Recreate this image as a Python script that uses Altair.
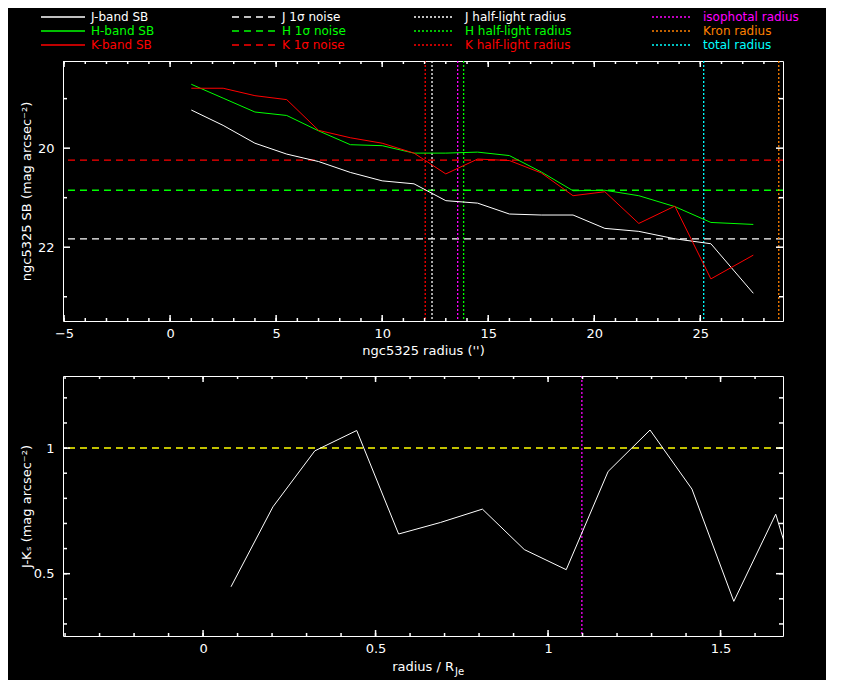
import altair as alt
import pandas as pd

# ---------------- data ----------------
radius = [1.0, 2.5, 4.0, 5.5, 7.0, 8.5, 10.0, 11.5, 13.0, 14.5, 16.0, 17.5,
          19.0, 20.5, 22.1, 23.8, 25.5, 27.5]
sb_J = [19.23, 19.54, 19.90, 20.12, 20.27, 20.49, 20.66, 20.72, 21.06, 21.11,
        21.33, 21.35, 21.35, 21.62, 21.68, 21.83, 21.93, 22.93]
sb_H = [18.71, 18.99, 19.27, 19.34, 19.65, 19.93, 19.95, 20.10, 20.10, 20.08,
        20.15, 20.48, 20.86, 20.85, 20.96, 21.18, 21.50, 21.54]
sb_K = [18.79, 18.79, 18.94, 19.02, 19.64, 19.79, 19.90, 20.10, 20.52, 20.22,
        20.25, 20.50, 20.96, 20.88, 21.52, 21.17, 22.64, 22.16]
bands = ["J", "H", "K"]
band_colours = ["#ffffff", "#00ff00", "#ff0000"]
noise_levels = [21.83, 20.85, 20.24]

radii_names = ["J half-light radius", "H half-light radius", "K half-light radius",
               "isophotal radius", "Kron radius", "total radius"]
radii_values = [12.35, 13.84, 12.03, 13.56, 28.70, 25.16]
radii_colours = ["#ffffff", "#00ff00", "#ff0000", "#ff00ff", "#ff8000", "#00ffff"]

# J-Ks colour profile (bottom panel), at the first 15 radii
jk_colour = [0.448, 0.766, 0.989, 1.070, 0.658, 0.704, 0.757, 0.596, 0.516,
             0.907, 1.072, 0.837, 0.390, 0.737, 0.15]
jk_reference = [1.0]
r_half_J = radii_values[0]

# axis ticks
top_x_major = [-5, 0, 5, 10, 15, 20, 25]
top_x_minor = list(range(-5, 29))
top_y_major = [20, 22]
top_y_minor = [19, 21, 23]
bot_x_major = [0, 0.5, 1, 1.5]
bot_x_minor = [round(-0.4 + 0.1 * i, 1) for i in range(21)]
bot_y_major = [0.5, 1.0]
bot_y_minor = [round(0.3 + 0.1 * i, 1) for i in range(10)]

legend_labels = ["J-band SB", "H-band SB", "K-band SB",
                 "J 1\u03c3 noise", "H 1\u03c3 noise", "K 1\u03c3 noise",
                 "J half-light radius", "H half-light radius", "K half-light radius",
                 "isophotal radius", "Kron radius", "total radius"]
legend_colours = band_colours * 3 + ["#ff00ff", "#ff8000", "#00ffff"]
legend_styles = ["solid"] * 3 + ["dashed"] * 3 + ["dotted"] * 6

# ---------------- layout constants ----------------
W, H = 720, 260
FONT = "DejaVu Sans"
FS = 13
LFS = 12
DASH = [7, 5]
DOT = [2, 2]
XMAJ, XMIN, YMAJ, YMIN = 6, 3, 7, 4     # tick lengths (px)
PLOT_X0, PLOT_Y0 = 64, 61               # page position of top plot area
LEG_SAMPLE_X0 = [42, 233, 415, 653]
LEG_SAMPLE_X1 = [86, 278, 455, 693]
LEG_TEXT_X = [92, 283, 466, 704]
LEG_ROW_Y = [17, 31, 45]

# ---------------- tables ----------------
n = len(radius)
sb_df = pd.DataFrame({
    "radius": radius * 3,
    "sb": sb_J + sb_H + sb_K,
    "band": [b for b in bands for _ in range(n)],
    "colour": [c for c in band_colours for _ in range(n)],
})
noise_df = pd.DataFrame({"band": bands, "level": noise_levels, "colour": band_colours})
radii_df = pd.DataFrame({"name": radii_names, "r": radii_values, "colour": radii_colours})

m = len(jk_colour)
jk_df = pd.DataFrame({"rje": [r / r_half_J for r in radius[:m]], "jk": jk_colour})
jkref_df = pd.DataFrame({"v": jk_reference})
iso_df = pd.DataFrame({"rje": [radii_values[3] / r_half_J]})

leg_rows = []
for i, (lab, col, sty) in enumerate(zip(legend_labels, legend_colours, legend_styles)):
    c, r = divmod(i, 3)
    leg_rows.append({
        "label": lab, "colour": col, "style": sty,
        "x0": LEG_SAMPLE_X0[c] - PLOT_X0, "x1": LEG_SAMPLE_X1[c] - PLOT_X0,
        "tx": LEG_TEXT_X[c] - PLOT_X0, "y": LEG_ROW_Y[r] - PLOT_Y0,
    })
leg_df = pd.DataFrame(leg_rows)


def tick_layers(xs, ys, x_major, x_minor, y_major, y_minor):
    """Inward frame ticks as rules, positioned in data units through the scales."""
    xd, yd = xs.domain, ys.domain
    xspan = xd[1] - xd[0]
    yspan = yd[1] - yd[0]
    if getattr(ys, "reverse", False) is True:
        y_bottom, y_top, ysgn = yd[1], yd[0], -1
    else:
        y_bottom, y_top, ysgn = yd[0], yd[1], 1
    rows = []
    for vals, ln in [(x_major, XMAJ), (x_minor, XMIN)]:
        d = ln / H * yspan * ysgn
        for v in vals:
            rows.append({"x": v, "x2": v, "y": y_bottom, "y2": y_bottom + d})
            rows.append({"x": v, "x2": v, "y": y_top, "y2": y_top - d})
    for vals, ln in [(y_major, YMAJ), (y_minor, YMIN)]:
        d = ln / W * xspan
        for v in vals:
            rows.append({"x": xd[0], "x2": xd[0] + d, "y": v, "y2": v})
            rows.append({"x": xd[1], "x2": xd[1] - d, "y": v, "y2": v})
    tdf = pd.DataFrame(rows)
    return [alt.Chart(tdf).mark_rule(color="#ffffff", strokeWidth=1.5).encode(
        x=alt.X("x:Q", scale=xs, axis=None), x2="x2:Q",
        y=alt.Y("y:Q", scale=ys, axis=None), y2="y2:Q")]


def label_layer(df, xf, yf, xs, ys, x_major, y_major, x_title, y_title):
    xkw = dict(orient="bottom", values=x_major, tickSize=XMAJ, offset=-XMAJ,
               labelPadding=6, format="~g", titlePadding=4, tickOpacity=0,
               domain=False, grid=False)
    xkw["title"] = x_title if x_title else None
    return alt.Chart(df).mark_line(opacity=0).encode(
        x=alt.X(xf, scale=xs, axis=alt.Axis(**xkw)),
        y=alt.Y(yf, scale=ys, axis=alt.Axis(orient="left", values=y_major, tickSize=YMAJ,
                                              offset=-YMAJ, labelPadding=9, format="~g",
                                              title=y_title, titlePadding=5, tickOpacity=0,
                                              minExtent=32, maxExtent=32,
                                              domain=False, grid=False)),
    )


# ---------------- top panel ----------------
xs_top = alt.Scale(domain=[-5.05, 28.9], nice=False, zero=False)
ys_top = alt.Scale(domain=[18.24, 23.49], nice=False, zero=False, reverse=True)

top_labels = label_layer(sb_df, "radius:Q", "sb:Q", xs_top, ys_top,
                         top_x_major, top_y_major,
                         "ngc5325 radius ('')", "ngc5325 SB (mag arcsec\u207b\u00b2)")
top_ticks = tick_layers(xs_top, ys_top, top_x_major, top_x_minor, top_y_major, top_y_minor)

noise = alt.Chart(noise_df).mark_rule(strokeDash=DASH, strokeWidth=1.3).encode(
    y=alt.Y("level:Q", scale=ys_top, axis=None),
    color=alt.Color("colour:N", scale=None),
)
vlines = alt.Chart(radii_df).mark_rule(strokeDash=DOT, strokeWidth=1.3).encode(
    x=alt.X("r:Q", scale=xs_top, axis=None),
    color=alt.Color("colour:N", scale=None),
)
sb_lines = alt.Chart(sb_df).mark_line(strokeWidth=1, clip=True).encode(
    x=alt.X("radius:Q", scale=xs_top, axis=None),
    y=alt.Y("sb:Q", scale=ys_top, axis=None),
    color=alt.Color("colour:N", scale=None),
    detail="band:N",
    order=alt.Order("radius:Q"),
)

leg_base = alt.Chart(leg_df)
leg_layers = []
for sty, dash in [("solid", None), ("dashed", DASH), ("dotted", DOT)]:
    kw = {"strokeWidth": 1.3}
    if dash:
        kw["strokeDash"] = dash
    leg_layers.append(
        leg_base.transform_filter(alt.datum.style == sty).mark_rule(**kw).encode(
            x=alt.X("x0:Q", scale=None, axis=None),
            x2="x1:Q",
            y=alt.Y("y:Q", scale=None, axis=None),
            color=alt.Color("colour:N", scale=None),
        )
    )
leg_text = leg_base.mark_text(align="left", baseline="middle", font=FONT, fontSize=LFS).encode(
    x=alt.X("tx:Q", scale=None, axis=None),
    y=alt.Y("y:Q", scale=None, axis=None),
    text="label:N",
    color=alt.Color("colour:N", scale=None),
)

top = alt.layer(top_labels, noise, vlines, sb_lines, *top_ticks, *leg_layers, leg_text).resolve_scale(
    x="independent", y="independent"
).properties(width=W, height=H)

# ---------------- bottom panel ----------------
xs_bot = alt.Scale(domain=[-0.406, 1.681], nice=False, zero=False)
ys_bot = alt.Scale(domain=[0.252, 1.287], nice=False, zero=False)

bot_labels = label_layer(jk_df, "rje:Q", "jk:Q", xs_bot, ys_bot,
                         bot_x_major, bot_y_major,
                         None, "J-K\u209b (mag arcsec\u207b\u00b2)")
bot_ticks = tick_layers(xs_bot, ys_bot, bot_x_major, bot_x_minor, bot_y_major, bot_y_minor)

jk_ref = alt.Chart(jkref_df).mark_rule(strokeDash=DASH, strokeWidth=1.5, color="#ffff00").encode(
    y=alt.Y("v:Q", scale=ys_bot, axis=None),
)
iso_line = alt.Chart(iso_df).mark_rule(strokeDash=DOT, strokeWidth=1.3, color="#ff00ff").encode(
    x=alt.X("rje:Q", scale=xs_bot, axis=None),
)
jk_line = alt.Chart(jk_df).mark_line(strokeWidth=1, color="white", clip=True).encode(
    x=alt.X("rje:Q", scale=xs_bot, axis=None),
    y=alt.Y("jk:Q", scale=ys_bot, axis=None),
)
xt_df = pd.DataFrame({"main": ["radius / R"], "sub": ["Je"]})
xt_main = alt.Chart(xt_df).mark_text(align="right", baseline="middle", font=FONT,
                                     fontSize=FS, color="white").encode(
    text="main:N", x=alt.value(391), y=alt.value(H + 31))
xt_sub = alt.Chart(xt_df).mark_text(align="left", baseline="middle", font=FONT,
                                    fontSize=10, color="white").encode(
    text="sub:N", x=alt.value(392), y=alt.value(H + 36))

bottom = alt.layer(bot_labels, jk_ref, iso_line, jk_line, *bot_ticks, xt_main, xt_sub).resolve_scale(
    x="independent", y="independent"
).properties(width=W, height=H)

chart = alt.vconcat(top, bottom, spacing=16).properties(
    background="black",
    padding={"left": 11, "top": 2, "right": 5, "bottom": 5},
).configure_view(
    stroke="white", strokeWidth=1
).configure_axis(
    labelFont=FONT, labelFontSize=FS, titleFont=FONT, titleFontSize=FS,
    titleFontWeight="normal", labelColor="white", titleColor="white",
    domain=False, grid=False,
)

chart.save("out.html", embed_options={"renderer": "svg", "actions": False})
